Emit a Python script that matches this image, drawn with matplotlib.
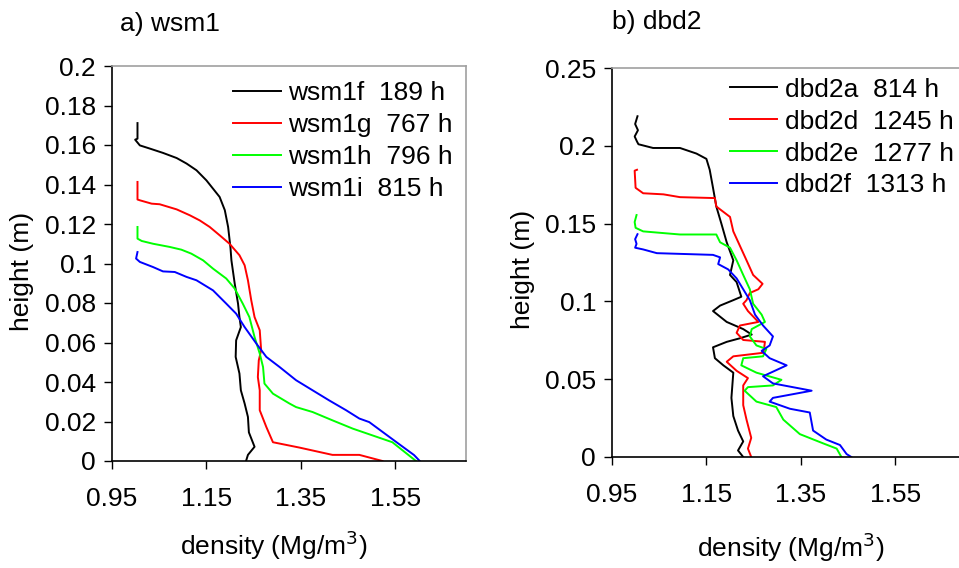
import matplotlib
matplotlib.use("Agg")
import matplotlib.pyplot as plt

plt.rcParams['font.family'] = ['Liberation Sans', 'DejaVu Sans']

# --- a) wsm1 : density (Mg/m3) vs height (m) ---
wsm1f_d = [1.004, 1.004, 0.999, 1.009, 1.030, 1.058, 1.087, 1.108, 1.129, 1.150, 1.164, 1.178,
           1.189, 1.196, 1.201, 1.203, 1.210, 1.217, 1.220, 1.223, 1.213, 1.212, 1.220, 1.223,
           1.231, 1.238, 1.240, 1.252, 1.238, 1.234]
wsm1f_h = [0.1711, 0.1632, 0.1627, 0.1598, 0.1582, 0.156, 0.1534, 0.1506, 0.1472, 0.1421, 0.1379,
           0.1337, 0.127, 0.1185, 0.108, 0.1016, 0.0898, 0.0797, 0.0729, 0.0678, 0.0611, 0.0527,
           0.0443, 0.0358, 0.0291, 0.0223, 0.0145, 0.0072, 0.0031, 0.0]

wsm1g_d = [1.004, 1.004, 1.009, 1.034, 1.051, 1.087, 1.115, 1.136, 1.157, 1.178, 1.199, 1.220,
           1.231, 1.238, 1.245, 1.252, 1.263, 1.266, 1.261, 1.259, 1.263, 1.263, 1.277, 1.291,
           1.347, 1.417, 1.474, 1.523]
wsm1g_h = [0.1413, 0.1324, 0.132, 0.1303, 0.130, 0.1274, 0.1244, 0.1218, 0.1185, 0.1143, 0.110,
           0.1042, 0.0991, 0.0915, 0.0814, 0.0729, 0.0662, 0.0561, 0.051, 0.0425, 0.0358, 0.0257,
           0.0172, 0.0095, 0.0068, 0.0031, 0.0031, 0.0]

wsm1h_d = [1.004, 1.004, 1.013, 1.037, 1.072, 1.097, 1.118, 1.143, 1.164, 1.192, 1.210, 1.227,
           1.241, 1.252, 1.263, 1.270, 1.273, 1.291, 1.326, 1.340, 1.375, 1.417, 1.460, 1.544,
           1.594]
wsm1h_h = [0.1185, 0.1126, 0.1114, 0.110, 0.1084, 0.107, 0.105, 0.1016, 0.0974, 0.0924, 0.0873,
           0.0797, 0.0729, 0.0628, 0.0544, 0.0476, 0.0392, 0.0341, 0.0291, 0.0273, 0.0248, 0.0206,
           0.0164, 0.0095, 0.0]

wsm1i_d = [1.004, 1.001, 1.009, 1.037, 1.058, 1.083, 1.108, 1.129, 1.164, 1.192, 1.213, 1.231,
           1.256, 1.277, 1.305, 1.340, 1.375, 1.410, 1.446, 1.474, 1.495, 1.558, 1.590, 1.602]
wsm1i_h = [0.1058, 0.1025, 0.1008, 0.0982, 0.096, 0.0957, 0.0932, 0.0915, 0.0864, 0.0797, 0.0746,
           0.0678, 0.0594, 0.0527, 0.0476, 0.0409, 0.0358, 0.0307, 0.0257, 0.0215, 0.0197, 0.0086,
           0.003, 0.0]

# --- b) dbd2 ---
dbd2a_d = [1.004, 0.999, 1.005, 0.998, 1.003, 1.006, 1.037, 1.094, 1.129, 1.150, 1.157, 1.164,
           1.171, 1.182, 1.193, 1.207, 1.200, 1.214, 1.224, 1.207, 1.179, 1.164, 1.193,
           1.228, 1.246, 1.221, 1.193, 1.164, 1.168, 1.186, 1.207, 1.203, 1.207, 1.217,
           1.228, 1.217, 1.228]
dbd2a_h = [0.219, 0.214, 0.210, 0.206, 0.2027, 0.201, 0.1986, 0.1986, 0.195, 0.1916, 0.1846, 0.173,
           0.161, 0.1497, 0.138, 0.1264, 0.117, 0.1124, 0.103, 0.1008, 0.0973, 0.0938, 0.0868,
           0.0822, 0.0787, 0.0763, 0.074, 0.0705, 0.0635, 0.0589, 0.0542, 0.038, 0.0263, 0.017,
           0.010, 0.0042, 0.0]

dbd2d_d = [1.003, 0.998, 1.000, 1.016, 1.059, 1.094, 1.168, 1.171, 1.200, 1.207, 1.221, 1.235,
           1.249, 1.269, 1.260, 1.242, 1.235, 1.228, 1.238, 1.260, 1.221, 1.214, 1.228,
           1.274, 1.271, 1.207, 1.193, 1.214, 1.238, 1.228, 1.228, 1.235, 1.245, 1.238, 1.245]
dbd2d_h = [0.1846, 0.184, 0.173, 0.1695, 0.1688, 0.167, 0.1664, 0.161, 0.1543, 0.145, 0.1357, 0.1264,
           0.117, 0.1113, 0.1078, 0.1054, 0.1008, 0.0985, 0.0938, 0.0868, 0.0845, 0.0798, 0.0752,
           0.074, 0.067, 0.0647, 0.0612, 0.0554, 0.0507, 0.046, 0.0333, 0.024, 0.0123, 0.0054, 0.0]

dbd2e_d = [1.002, 0.998, 1.000, 1.016, 1.094, 1.171, 1.179, 1.200, 1.214, 1.228, 1.242, 1.249,
           1.267, 1.274, 1.246, 1.242, 1.256, 1.277, 1.270, 1.228, 1.224, 1.256, 1.309, 1.291,
           1.238, 1.231, 1.256, 1.298, 1.313, 1.348, 1.397, 1.426, 1.436]
dbd2e_h = [0.1555, 0.151, 0.1473, 0.145, 0.143, 0.143, 0.138, 0.1345, 0.1264, 0.117, 0.1078, 0.0985,
           0.0915, 0.0868, 0.0822, 0.0775, 0.0717, 0.0694, 0.0647, 0.0635, 0.0589, 0.0542, 0.0496,
           0.046, 0.0449, 0.0426, 0.0356, 0.0321, 0.024, 0.0147, 0.0088, 0.0054, 0.0]

dbd2f_d = [1.004, 0.999, 1.002, 0.999, 1.016, 1.045, 1.164, 1.179, 1.175, 1.196, 1.214, 1.228,
           1.242, 1.253, 1.270, 1.291, 1.284, 1.267, 1.284, 1.320, 1.270, 1.291, 1.373, 1.291,
           1.284, 1.327, 1.369, 1.376, 1.404, 1.433, 1.447, 1.457]
dbd2f_h = [0.1432, 0.140, 0.137, 0.1345, 0.1334, 0.131, 0.1299, 0.1283, 0.124, 0.1206, 0.1148, 0.1078,
           0.1008, 0.0915, 0.0845, 0.0775, 0.0717, 0.0682, 0.0635, 0.0589, 0.0519, 0.0473, 0.0426,
           0.038, 0.0356, 0.031, 0.0286, 0.017, 0.0112, 0.0077, 0.0019, 0.0]

labels_a = ["wsm1f  189 h", "wsm1g  767 h", "wsm1h  796 h", "wsm1i  815 h"]
labels_b = ["dbd2a  814 h", "dbd2d  1245 h", "dbd2e  1277 h", "dbd2f  1313 h"]
colors = ["black", "#ff0000", "#00ff00", "#0000ff"]

xticks = [0.95, 1.15, 1.35, 1.55]

W, H = 959, 568
FS = 19
fig = plt.figure(figsize=(W / 100, H / 100), dpi=100)


def px_axes(x0, y0, x1, y1):
    # pixel box -> figure fraction
    return fig.add_axes([x0 / W, 1 - y1 / H, (x1 - x0) / W, (y1 - y0) / H])


ax1 = px_axes(112, 66, 466, 461)
ax2 = px_axes(612, 68, 966, 457)

series_a = [(wsm1f_d, wsm1f_h), (wsm1g_d, wsm1g_h), (wsm1h_d, wsm1h_h), (wsm1i_d, wsm1i_h)]
series_b = [(dbd2a_d, dbd2a_h), (dbd2d_d, dbd2d_h), (dbd2e_d, dbd2e_h), (dbd2f_d, dbd2f_h)]

for ax, series, labels, ymax, ystep, leg_x, leg_y in [
        (ax1, series_a, labels_a, 0.2, 0.02, 0.342, 0.962),
        (ax2, series_b, labels_b, 0.25, 0.05, 0.333, 0.975)]:
    for (d, h), lab, c in zip(series, labels, colors):
        ax.plot(d, h, color=c, lw=1.4, label=lab)
    ax.set_xlim(0.95, 1.70)
    ax.set_ylim(0, ymax)
    ax.set_xticks(xticks)
    ax.set_xticklabels(["0.95", "1.15", "1.35", "1.55"])
    yt = [round(i * ystep, 2) for i in range(int(round(ymax / ystep)) + 1)]
    ax.set_yticks(yt)
    ax.set_yticklabels(["0" if v == 0 else ("%g" % v) for v in yt])
    ax.tick_params(axis='both', direction='out', length=5.5, width=1, labelsize=FS)
    ax.tick_params(axis='x', pad=13)
    ax.tick_params(axis='y', pad=6)
    for s in ['left', 'bottom']:
        ax.spines[s].set_color('black')
        ax.spines[s].set_linewidth(1.2)
    for s in ['top', 'right']:
        ax.spines[s].set_color('#a0a0a0')
        ax.spines[s].set_linewidth(1.2)
    ax.legend(loc='upper left', bbox_to_anchor=(leg_x, leg_y), frameon=False,
              fontsize=FS, handlelength=1.8, handletextpad=0.3, labelspacing=0.3,
              borderpad=0, borderaxespad=0)


def ftext(x, y, s, **kw):
    fig.text(x / W, 1 - y / H, s, fontsize=FS, **kw)


ftext(170, 24, "a) wsm1", ha='center', va='center')
ftext(657, 22, "b) dbd2", ha='center', va='center')
ftext(22, 271, "height (m)", ha='center', va='center', rotation=90)
ftext(523, 269, "height (m)", ha='center', va='center', rotation=90)
ftext(274, 545, "density (Mg/m$^3$)", ha='center', va='center')
ftext(791, 547, "density (Mg/m$^3$)", ha='center', va='center')

fig.savefig("out.png", dpi=100)
